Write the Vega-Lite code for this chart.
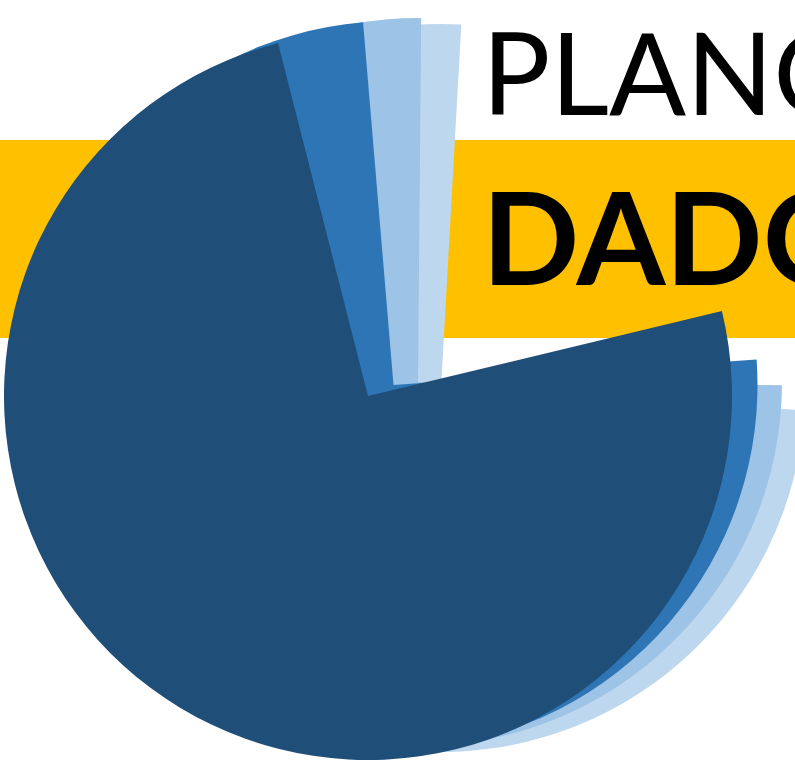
{
  "$schema": "https://vega.github.io/schema/vega-lite/v6.json",
  "width": 795,
  "height": 771,
  "autosize": "none",
  "padding": 0,
  "background": "white",
  "config": {"view": {"stroke": null}},
  "datasets": {
    "band": [{"x0": 0, "x1": 795, "y0": 140, "y1": 338}],
    "slices": [
      {"layer": "d_lightest", "cx": 441, "cy": 388, "start": 93.5, "end": 363.2},
      {"layer": "c_light", "cx": 418, "cy": 382, "start": 90.5, "end": 360.5},
      {"layer": "b_medium", "cx": 393.5, "cy": 385, "start": 86, "end": 355.2},
      {"layer": "a_dark", "cx": 368, "cy": 396, "start": 76.5, "end": 345.7}
    ],
    "title1": [{"label": "PLANO", "tx": 482, "ty": 115}],
    "title2": [{"label": "DADOS", "tx": 482, "ty": 285}]
  },
  "layer": [
    {
      "data": {"name": "band"},
      "mark": {"type": "rect", "color": "#FFC000"},
      "encoding": {
        "x": {"field": "x0", "type": "quantitative", "scale": {"domain": [0, 795], "nice": false, "zero": false}, "axis": null},
        "x2": {"field": "x1"},
        "y": {"field": "y0", "type": "quantitative", "scale": {"domain": [0, 771], "nice": false, "zero": false, "reverse": true}, "axis": null},
        "y2": {"field": "y1"}
      }
    },
    {
      "data": {"name": "slices"},
      "mark": {"type": "arc", "radius": 364},
      "encoding": {
        "x": {"field": "cx", "type": "quantitative", "scale": {"domain": [0, 795], "nice": false, "zero": false}, "axis": null},
        "y": {"field": "cy", "type": "quantitative", "scale": {"domain": [0, 771], "nice": false, "zero": false, "reverse": true}, "axis": null},
        "theta": {"field": "start", "type": "quantitative", "stack": null, "scale": {"domain": [0, 360], "range": [0, 6.283185307], "zero": false, "nice": false}},
        "theta2": {"field": "end"},
        "color": {"field": "layer", "type": "nominal", "legend": null, "scale": {"domain": ["a_dark", "b_medium", "c_light", "d_lightest"], "range": ["#1F4E79", "#2E75B6", "#9DC3E6", "#BDD7EE"]}},
        "order": {"field": "layer", "sort": "descending"}
      }
    },
    {
      "data": {"name": "title1"},
      "mark": {"type": "text", "font": "Lato", "fontSize": 114, "fontWeight": "normal", "align": "left", "baseline": "alphabetic", "color": "#000000"},
      "encoding": {
        "x": {"field": "tx", "type": "quantitative", "scale": {"domain": [0, 795], "nice": false, "zero": false}, "axis": null},
        "y": {"field": "ty", "type": "quantitative", "scale": {"domain": [0, 771], "nice": false, "zero": false, "reverse": true}, "axis": null},
        "text": {"field": "label"}
      }
    },
    {
      "data": {"name": "title2"},
      "mark": {"type": "text", "font": "Lato", "fontSize": 128, "fontWeight": "bold", "align": "left", "baseline": "alphabetic", "color": "#000000"},
      "encoding": {
        "x": {"field": "tx", "type": "quantitative", "scale": {"domain": [0, 795], "nice": false, "zero": false}, "axis": null},
        "y": {"field": "ty", "type": "quantitative", "scale": {"domain": [0, 771], "nice": false, "zero": false, "reverse": true}, "axis": null},
        "text": {"field": "label"}
      }
    }
  ]
}
